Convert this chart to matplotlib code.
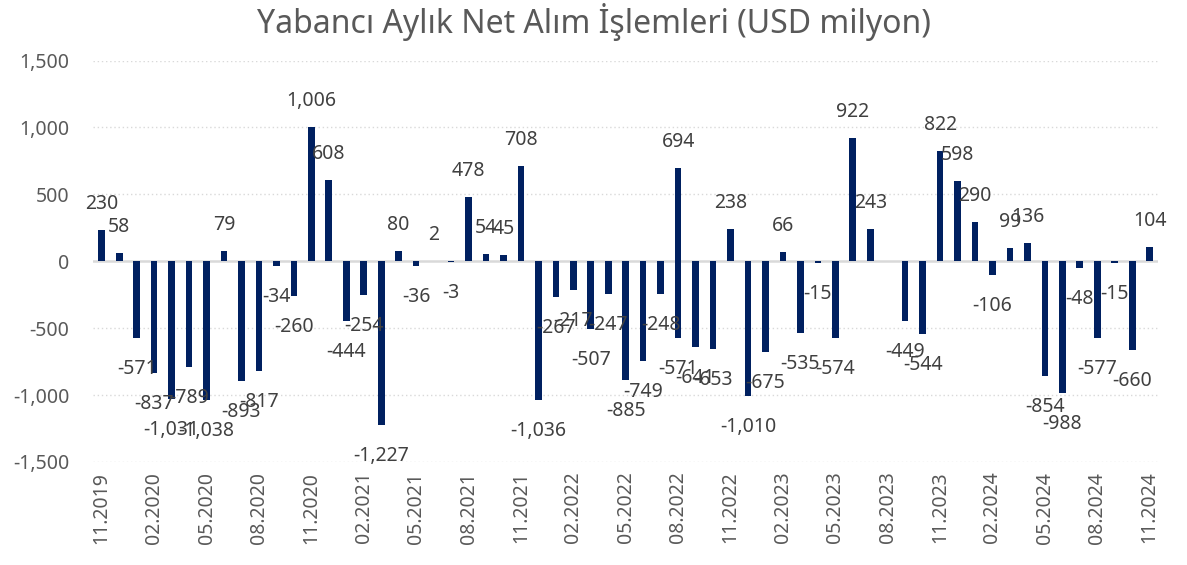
import numpy as np
import matplotlib
matplotlib.use("Agg")
import matplotlib.pyplot as plt

plt.rcParams["font.family"] = ["Noto Sans", "DejaVu Sans"]

INK = "#595959"; BAR = "#002060"; GRID = "#d9d9d9"

months = ["11.2019", "12.2019",
          "01.2020", "02.2020", "03.2020", "04.2020", "05.2020", "06.2020",
          "07.2020", "08.2020", "09.2020", "10.2020", "11.2020", "12.2020",
          "01.2021", "02.2021", "03.2021", "04.2021", "05.2021", "06.2021",
          "07.2021", "08.2021", "09.2021", "10.2021", "11.2021", "12.2021",
          "01.2022", "02.2022", "03.2022", "04.2022", "05.2022", "06.2022",
          "07.2022", "08.2022", "09.2022", "10.2022", "11.2022", "12.2022",
          "01.2023", "02.2023", "03.2023", "04.2023", "05.2023", "06.2023",
          "07.2023", "08.2023", "09.2023", "10.2023", "11.2023", "12.2023",
          "01.2024", "02.2024", "03.2024", "04.2024", "05.2024", "06.2024",
          "07.2024", "08.2024", "09.2024", "10.2024", "11.2024"]
net = [230, 58,
       -571, -837, -1031, -789, -1038, 79, -893, -817, -34, -260, 1006, 608,
       -444, -254, -1227, 80, -36, 2, -3, 478, 54, 45, 708, -1036,
       -267, -217, -507, -247, -885, -749, -248, 694, -641, -653, 238, -1010,
       -675, 66, -535, -15, -574, 922, 243, np.nan, -449, -544, 822, 598,
       290, -106, 99, 136, -854, -988, -48, -577, -15, -660, 104]
# second value shown on the same category in the original chart
extra_month = "08.2022"
extra_value = -571

W, H = 1187, 565
fig = plt.figure(figsize=(W/100, H/100), dpi=100)
fig.patch.set_facecolor("white")
ax = fig.add_axes([93/W, 1-462/H, (1158.4-93)/W, (462-60.5)/H])

x = np.arange(len(months))
ax.bar(x, net, width=0.38, color=BAR, zorder=3)
xe = months.index(extra_month)
ax.bar([xe], [extra_value], width=0.38, color=BAR, zorder=3)

def lab(xi, v):
    if np.isnan(v):
        return
    off = 16 if v >= 0 else -21
    ax.annotate(f"{v:,.0f}", (xi, v), xytext=(0, off), textcoords="offset pixels",
                ha="center", va="bottom" if v >= 0 else "top",
                fontsize=14, color="#404040", zorder=5)

for xi, v in zip(x, net):
    lab(xi, v)
lab(xe, extra_value)

ax.set_xlim(-0.5, len(months)-0.5)
ax.set_ylim(-1500, 1500)
ax.set_yticks(np.arange(-1500, 1501, 500))
ax.set_yticklabels([f"{t:,}" for t in range(-1500, 1501, 500)])
ax.set_xticks(x[::3])
ax.set_xticklabels(months[::3], rotation=90)
ax.tick_params(axis="y", length=0, pad=17, labelsize=14, labelcolor=INK)
ax.tick_params(axis="x", length=0, pad=7, labelsize=14, labelcolor=INK)
for s in ax.spines.values():
    s.set_visible(False)
for t in range(-1500, 1501, 500):
    if t != 0:
        ax.axhline(t, color=GRID, lw=1.0, ls=(0, (1, 2)), zorder=1)
ax.axhline(0, color=GRID, lw=1.8, zorder=2)

fig.text(0.5, 1-22/H, "Yabancı Aylık Net Alım İşlemleri (USD milyon)",
         ha="center", va="center", fontsize=23, color=INK)

fig.savefig("out.png", dpi=100, facecolor="white")
